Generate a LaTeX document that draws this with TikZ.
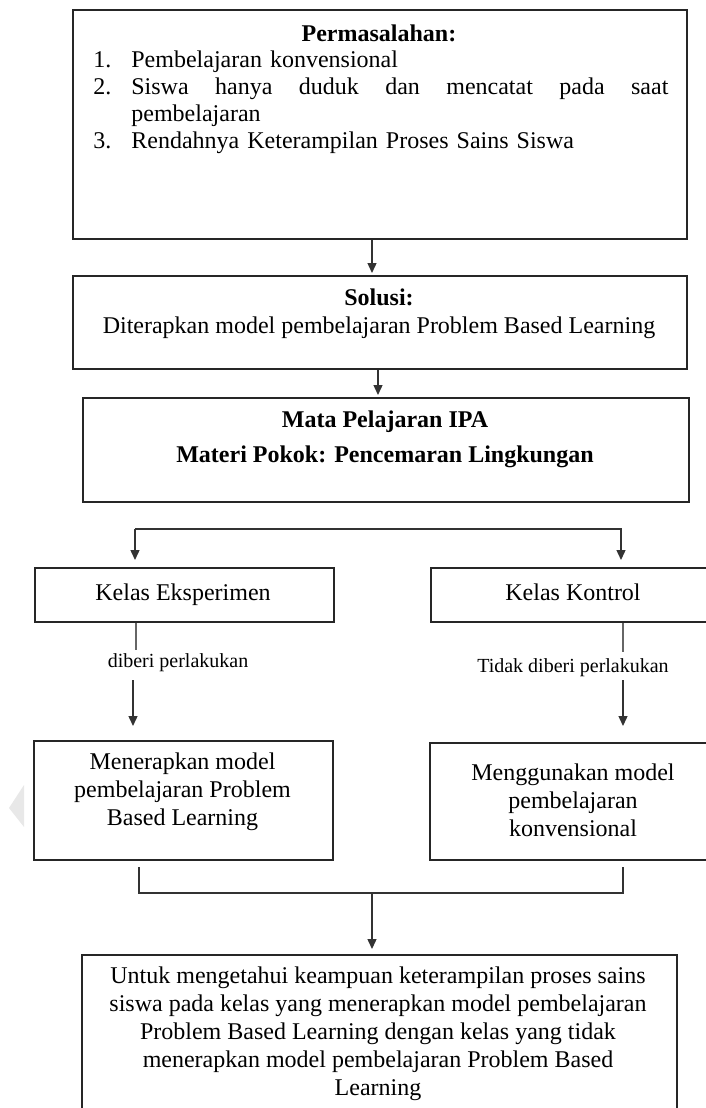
\documentclass[tikz,border=0pt]{standalone}
\usepackage{fontspec}
\setmainfont{Liberation Serif}
\usetikzlibrary{arrows.meta}
\begin{document}
\begin{tikzpicture}[x=0.5pt,y=-0.5pt,
  box/.style={draw=black!85, line width=1.1pt, inner sep=0pt, anchor=north west},
  txt/.style={inner sep=0pt, align=center, font=\fontsize{12}{14}\selectfont},
  lbl/.style={inner sep=0pt, font=\fontsize{10}{12}\selectfont},
  conn/.style={draw=black!80, line width=0.7pt},
  arr/.style={conn, -{Triangle[width=4.5pt,length=5pt]}},
]
\useasboundingbox (0,0) rectangle (706,1108);
\clip (0,0) rectangle (706,1108);

% faint side marker
\fill[gray!18] (24,785) -- (24,827) -- (9,808) -- cycle;

% boxes
\node[box, minimum width=307pt, minimum height=114.5pt] (b1) at (72,9) {};
\node[box, minimum width=307pt, minimum height=46.5pt] (b2) at (72,275) {};
\node[box, minimum width=303pt, minimum height=52pt] (b3) at (82,397) {};
\node[box, minimum width=149.5pt, minimum height=27pt] (ke) at (34,567) {};
\node[box, minimum width=143.5pt, minimum height=27pt] (kk) at (430,567) {};
\node[box, minimum width=149.5pt, minimum height=59.5pt] (me) at (33,740) {};
\node[box, minimum width=144pt, minimum height=58.5pt] (mg) at (429,742) {};
\node[box, minimum width=297.5pt, minimum height=85pt] (fb) at (81,954) {};

% texts
\node[txt, font=\fontsize{12}{14}\selectfont\bfseries] (t1) at (379,33) {Permasalahan:};
\node[inner sep=0pt, anchor=west, text width=290pt, align=left, font=\fontsize{12}{13.5}\selectfont] (t1l) at (93,102.5) {%
\makebox[19pt][l]{1.}Pembelajaran konvensional\\
\makebox[19pt][l]{2.}\makebox[268.5pt][s]{\spaceskip=0.25em plus 1fil Siswa hanya duduk dan mencatat pada saat}\\
\hspace*{19pt}pembelajaran\\
\makebox[19pt][l]{3.}Rendahnya Keterampilan Proses Sains Siswa};
\node[txt] (t2) at (379,314) {\textbf{Solusi:}\\Diterapkan model pembelajaran Problem Based Learning};
\node[txt, font=\fontsize{12}{17.5}\selectfont\bfseries] (t3) at (385,439.5) {Mata Pelajaran IPA\\Materi Pokok: Pencemaran Lingkungan};
\node[txt, anchor=base] (tke) at (183,600) {Kelas Eksperimen};
\node[txt, anchor=base] (tkk) at (573,600) {Kelas Kontrol};
\node[txt] (tme) at (182.5,791.5) {Menerapkan model\\pembelajaran Problem\\Based Learning};
\node[txt] (tmg) at (573,800.5) {Menggunakan model\\pembelajaran\\konvensional};
\node[txt] (tfb) at (378,1034) {Untuk mengetahui keampuan keterampilan proses sains\\siswa pada kelas yang menerapkan model pembelajaran\\Problem Based Learning dengan kelas yang tidak\\menerapkan model pembelajaran Problem Based\\Learning};
\node[lbl] (dl) at (178,663) {diberi perlakukan};
\node[lbl] (tl) at (573,668) {Tidak diberi perlakukan};

% connectors
\coordinate (a1) at (372,0);
\draw[arr, shorten >=1pt] (b1.south -| a1) -- (b2.north -| a1);
\coordinate (a2) at (378,0);
\draw[arr, shorten >=1pt] (b2.south -| a2) -- (b3.north -| a2);

\coordinate (bl) at (135,529);
\coordinate (br) at (621,529);
\draw[arr, shorten >=3.5pt] (bl) -- (bl |- ke.north);
\draw[arr, shorten >=3.5pt] (bl) -- (br) -- (br |- kk.north);

\coordinate (l1) at (136,650);
\coordinate (l2) at (133,680);
\draw[conn, draw=black!60, line width=1pt] (ke.south -| l1) -- (l1);
\draw[arr, shorten >=7pt] (l2) -- (l2 |- me.north);

\coordinate (r1) at (623,652);
\coordinate (r2) at (623,680);
\draw[conn, draw=black!60, line width=1pt] (kk.south -| r1) -- (r1);
\draw[arr, shorten >=8pt] (r2) -- (r2 |- mg.north);

\coordinate (q1) at (139,867);
\coordinate (q2) at (623,867);
\coordinate (h1) at (139,893);
\coordinate (h2) at (623,893);
\coordinate (hm) at (372,893);
\draw[conn] (q1) -- (h1) -- (h2) -- (q2);
\draw[arr, shorten >=2.5pt] (hm) -- (hm |- fb.north);
\end{tikzpicture}
\end{document}
